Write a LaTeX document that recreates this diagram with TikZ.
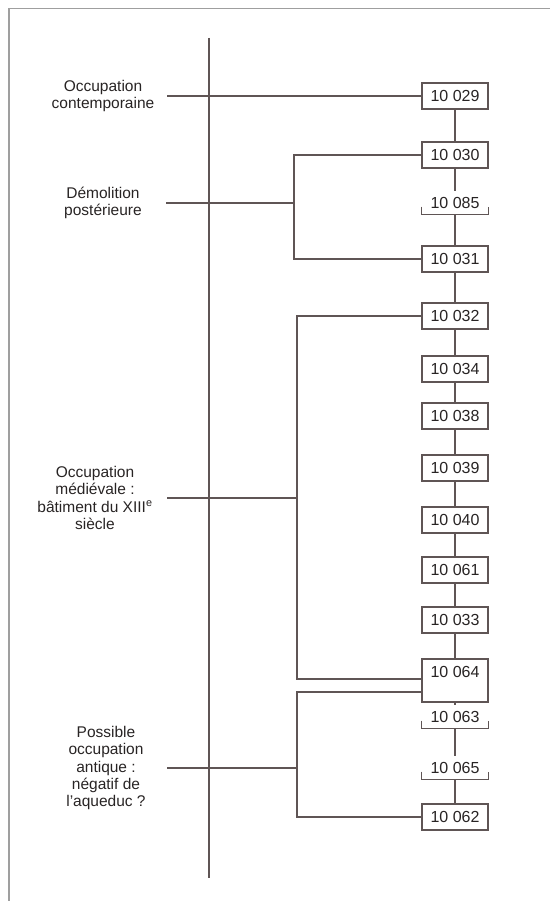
\documentclass[tikz,border=0pt]{standalone}
\usepackage{fontspec}
\setmainfont{Liberation Sans}
\usetikzlibrary{positioning}
\definecolor{linegray}{RGB}{95,85,85}
\definecolor{textgray}{RGB}{40,36,36}

\begin{document}
\begin{tikzpicture}[x=1pt, y=-1pt, line width=1.1pt, color=linegray,
    us/.style={draw=linegray, fill=white, minimum width=66pt, inner xsep=0pt,
      inner ysep=7.5pt, text height=11pt, text depth=0pt,
      font=\fontsize{16}{19}\selectfont, text=textgray},
    openus/.style={us, draw=none, inner ysep=5.5pt},
    phase/.style={align=center, font=\fontsize{15.5}{17.3}\selectfont, text=textgray}]
  \useasboundingbox (0,0) rectangle (550,901);
  % frame
  \draw[gray!75, line width=1.3pt] (9,901) -- (9,8.5) -- (550,8.5);
  % time axis
  \coordinate (axtop) at (209,38);
  \coordinate (axbot) at (209,878);
  \draw (axtop) -- (axbot);
  % stratigraphic units
  \foreach \n/\y in {029/96, 030/155, 031/259, 032/316, 034/369, 038/416,
                     039/468, 040/520, 061/570, 033/620, 062/817}{
    \node[us] (u\n) at (455,\y) {10 \n};
  }
  \node[us, text depth=17pt] (u064) at (455,680.5) {10 064};
  \foreach \n/\y in {085/203, 063/717, 065/768}{
    \node[openus] (u\n) at (455,\y) {10 \n};
    \draw ([yshift=8pt]u\n.south west) -- (u\n.south west) -- (u\n.south east)
      -- ([yshift=8pt]u\n.south east);
  }
  \foreach \a/\b in {029/030, 030/085, 085/031, 031/032, 032/034, 034/038,
                     038/039, 039/040, 040/061, 061/033, 033/064, 064/063,
                     063/065, 065/062}{
    \draw (u\a.south) -- (u\b.north);
  }
  % phases
  \node[phase] (lcont) at (103,96) {Occupation\\contemporaine};
  \coordinate (tcont) at (167,96);
  \draw (tcont) -- (u029.west);

  \node[phase] (ldemo) at (103,203) {Démolition\\postérieure};
  \coordinate (tdemo) at (166,203);
  \coordinate (kdemo) at (294,203);
  \draw (tdemo) -- (kdemo);
  \draw (u030.west) -| (kdemo) |- (u031.west);

  \node[phase] (lmed) at (95,498) {Occupation\\médiévale :\\bâtiment du XIII\textsuperscript{e}\\siècle};
  \coordinate (tmed) at (167,498);
  \coordinate (kmed) at (297,498);
  \draw (tmed) -- (kmed);
  \draw (u032.west) -| (kmed) |- ([yshift=1.5pt]u064.west);

  \node[phase] (lant) at (106,768) {Possible\\occupation\\antique :\\négatif de\\l'aqueduc ?};
  \coordinate (tant) at (167,768);
  \coordinate (kant) at (297,768);
  \draw (tant) -- (kant);
  \draw ([yshift=-11.5pt]u064.west) -| (kant) |- (u062.west);
\end{tikzpicture}
\end{document}
